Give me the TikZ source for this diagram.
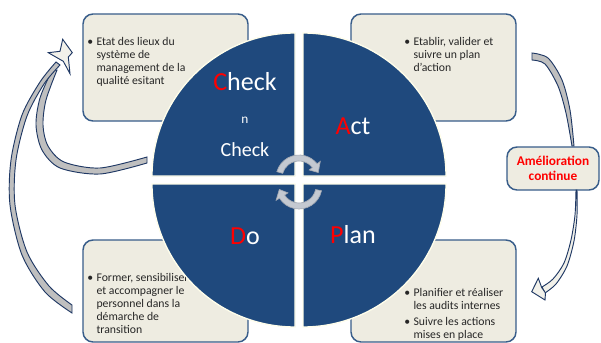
\documentclass[tikz,border=0pt]{standalone}
\usepackage{fontspec}
\setmainfont{Carlito}
\usetikzlibrary{calc}

\definecolor{quadblue}{HTML}{1F497D}
\definecolor{boxfill}{HTML}{EEECE1}
\definecolor{boxline}{HTML}{385D8A}
\definecolor{arrowline}{HTML}{1F3864}
\definecolor{bandgray}{HTML}{BFBFBF}
\definecolor{headfill}{HTML}{F2F1EA}
\definecolor{cycgray}{HTML}{C4C9D1}
\definecolor{cycline}{HTML}{A3A9B3}
\definecolor{bodytext}{HTML}{262626}

\begin{document}
\begin{tikzpicture}[
    x=0.75pt, y=-0.75pt,
    infobox/.style={draw=boxline, fill=boxfill, line width=1.1pt, rounded corners=7.5pt,
        minimum width=123.75pt, inner sep=0pt},
    boxtext/.style={font=\fontsize{8.8}{9.7}\selectfont, text=bodytext, align=left,
        inner sep=0pt, anchor=north west},
    quadfill/.style={fill=quadblue, draw=white!92!yellow, line width=1pt},
    bigletter/.style={font=\fontsize{19.5}{22}\selectfont, text=white},
    band/.style={draw=arrowline, fill=bandgray, line width=0.7pt},
    bandlight/.style={draw=arrowline, fill=headfill, line width=0.7pt},
    head/.style={draw=arrowline, fill=headfill, line width=0.7pt, line join=miter},
    cycarrow/.style={fill=cycgray, draw=cycline, line width=0.5pt},
]
\useasboundingbox[fill=white] (0,0) rectangle (601,343);

% ===================== TEXT BOXES =====================
\node[infobox, minimum height=80.25pt] (chkbox) at (165.5,67.5) {};
\node[boxtext] at ($(chkbox.north west)+(14,24)$) {%
    \llap{\textbullet\hspace{2.5pt}}Etat des lieux du\\
    système de\\
    management de la\\
    qualité esitant};

\node[infobox, minimum height=80.25pt] (actbox) at (433.5,67.5) {};
\node[boxtext] at ($(actbox.north west)+(63,24)$) {%
    \llap{\textbullet\hspace{2.5pt}}Etablir, valider et\\
    suivre un plan\\
    d'action};

\node[infobox, minimum height=76.5pt] (dobox) at (165.5,291) {};
\node[boxtext] at ($(dobox.north west)+(14,34)$) {%
    \llap{\textbullet\hspace{2.5pt}}Former, sensibiliser\\
    et accompagner le\\
    personnel dans la\\
    démarche de\\
    transition};

\node[infobox, minimum height=76.5pt] (planbox) at (433.5,291) {};
\node[boxtext] at ($(planbox.north west)+(63,49)$) {%
    \llap{\textbullet\hspace{2.5pt}}Planifier et réaliser\\
    les audits internes\\[2.25pt]
    \llap{\textbullet\hspace{2.5pt}}Suivre les actions\\
    mises en place};

% ===================== AMELIORATION =====================
\node[infobox, minimum width=69pt, minimum height=32.25pt,
      font=\fontsize{10}{11.25}\selectfont\bfseries, text=red, align=center]
      (amel) at (553,168.5) {Amélioration\\continue};

% ===================== PDCA CIRCLE =====================
\coordinate (ctl) at (295,176);
\coordinate (ctr) at (303,176);
\coordinate (cbl) at (295,184);
\coordinate (cbr) at (303,184);
\draw[quadfill] (ctl) -- +(-143,0) arc[start angle=180, end angle=270, radius=143] -- cycle;
\draw[quadfill] (ctr) -- +(0,-143) arc[start angle=270, end angle=360, radius=143] -- cycle;
\draw[quadfill] (cbr) -- +(143,0) arc[start angle=0, end angle=90, radius=143] -- cycle;
\draw[quadfill] (cbl) -- +(0,143) arc[start angle=90, end angle=180, radius=143] -- cycle;

\node[bigletter] (chk) at (245,82) {\textcolor{red}{C}heck};
\node[font=\fontsize{10}{12}\selectfont, text=white] (chkn) at (245,120) {n};
\node[font=\fontsize{15}{18}\selectfont, text=white] (chk2) at (245,150) {Check};
\node[bigletter] (act) at (353,126) {\textcolor{red}{A}ct};
\node[bigletter] (do) at (245,236) {\textcolor{red}{D}o};
\node[bigletter] (plan) at (353,235) {\textcolor{red}{P}lan};

% cycle arrows in the centre
\coordinate (cyctop) at (299,178);
\coordinate (cycbot) at (299,186);
\draw[cycarrow] (cyctop) ++(196:23) arc[start angle=196, end angle=322, radius=23]
    -- ($(cyctop)+(322:27)$) -- ($(cyctop)+(344:20)$) -- ($(cyctop)+(322:13)$)
    -- ($(cyctop)+(322:17)$) arc[start angle=322, end angle=196, radius=17] -- cycle;
\draw[cycarrow] (cycbot) ++(12:23) arc[start angle=12, end angle=148, radius=23]
    -- ($(cycbot)+(148:27)$) -- ($(cycbot)+(170:20)$) -- ($(cycbot)+(148:13)$)
    -- ($(cycbot)+(148:17)$) arc[start angle=148, end angle=12, radius=17] -- cycle;

% ===================== LEFT CURVED ARROW =====================
% back band
\draw[band] plot[smooth] coordinates {(147,163) (100,174) (60,168) (42,150) (36,125) (40,98) (52,70)}
    -- plot[smooth] coordinates {(57,70) (46,100) (43,125) (48,146) (64,162) (100,168) (147,157)} -- cycle;
% front band
\draw[band] plot[smooth] coordinates {(72,313) (45,292) (22,255) (10,205) (11,160) (22,115) (40,82) (56,62)}
    -- plot[smooth] coordinates {(60,65) (44,84) (27,116) (16,160) (15,205) (27,252) (49,286) (72,305)} -- cycle;
\draw[head] (62.7,39.3) -- (72.3,52.7) -- (68.3,57) -- (70,73.7) -- (63.3,61.3)
    -- (48.3,52.7) -- (60,51.3) -- cycle;

% ===================== RIGHT CURVED ARROWS =====================
% Act -> Amelioration
\draw[band] plot[smooth] coordinates {(532,53) (548,58) (562,80) (570,110) (574,146)}
    -- plot[smooth] coordinates {(572,146) (566,113) (558,86) (545,64) (532,60)} -- cycle;
% Amelioration -> Plan
\draw[bandlight] plot[smooth] coordinates {(576,190) (575,215) (571,240) (564,263) (553,279) (542,287)}
    -- plot[smooth] coordinates {(545,293) (556,284) (567,266) (574,241) (577,215) (577,190)} -- cycle;
\draw[head] (531.7,291.7) -- (538.3,278.3) -- (541.7,287.5) -- (545.5,293) -- (545,300) -- cycle;

\end{tikzpicture}
\end{document}
